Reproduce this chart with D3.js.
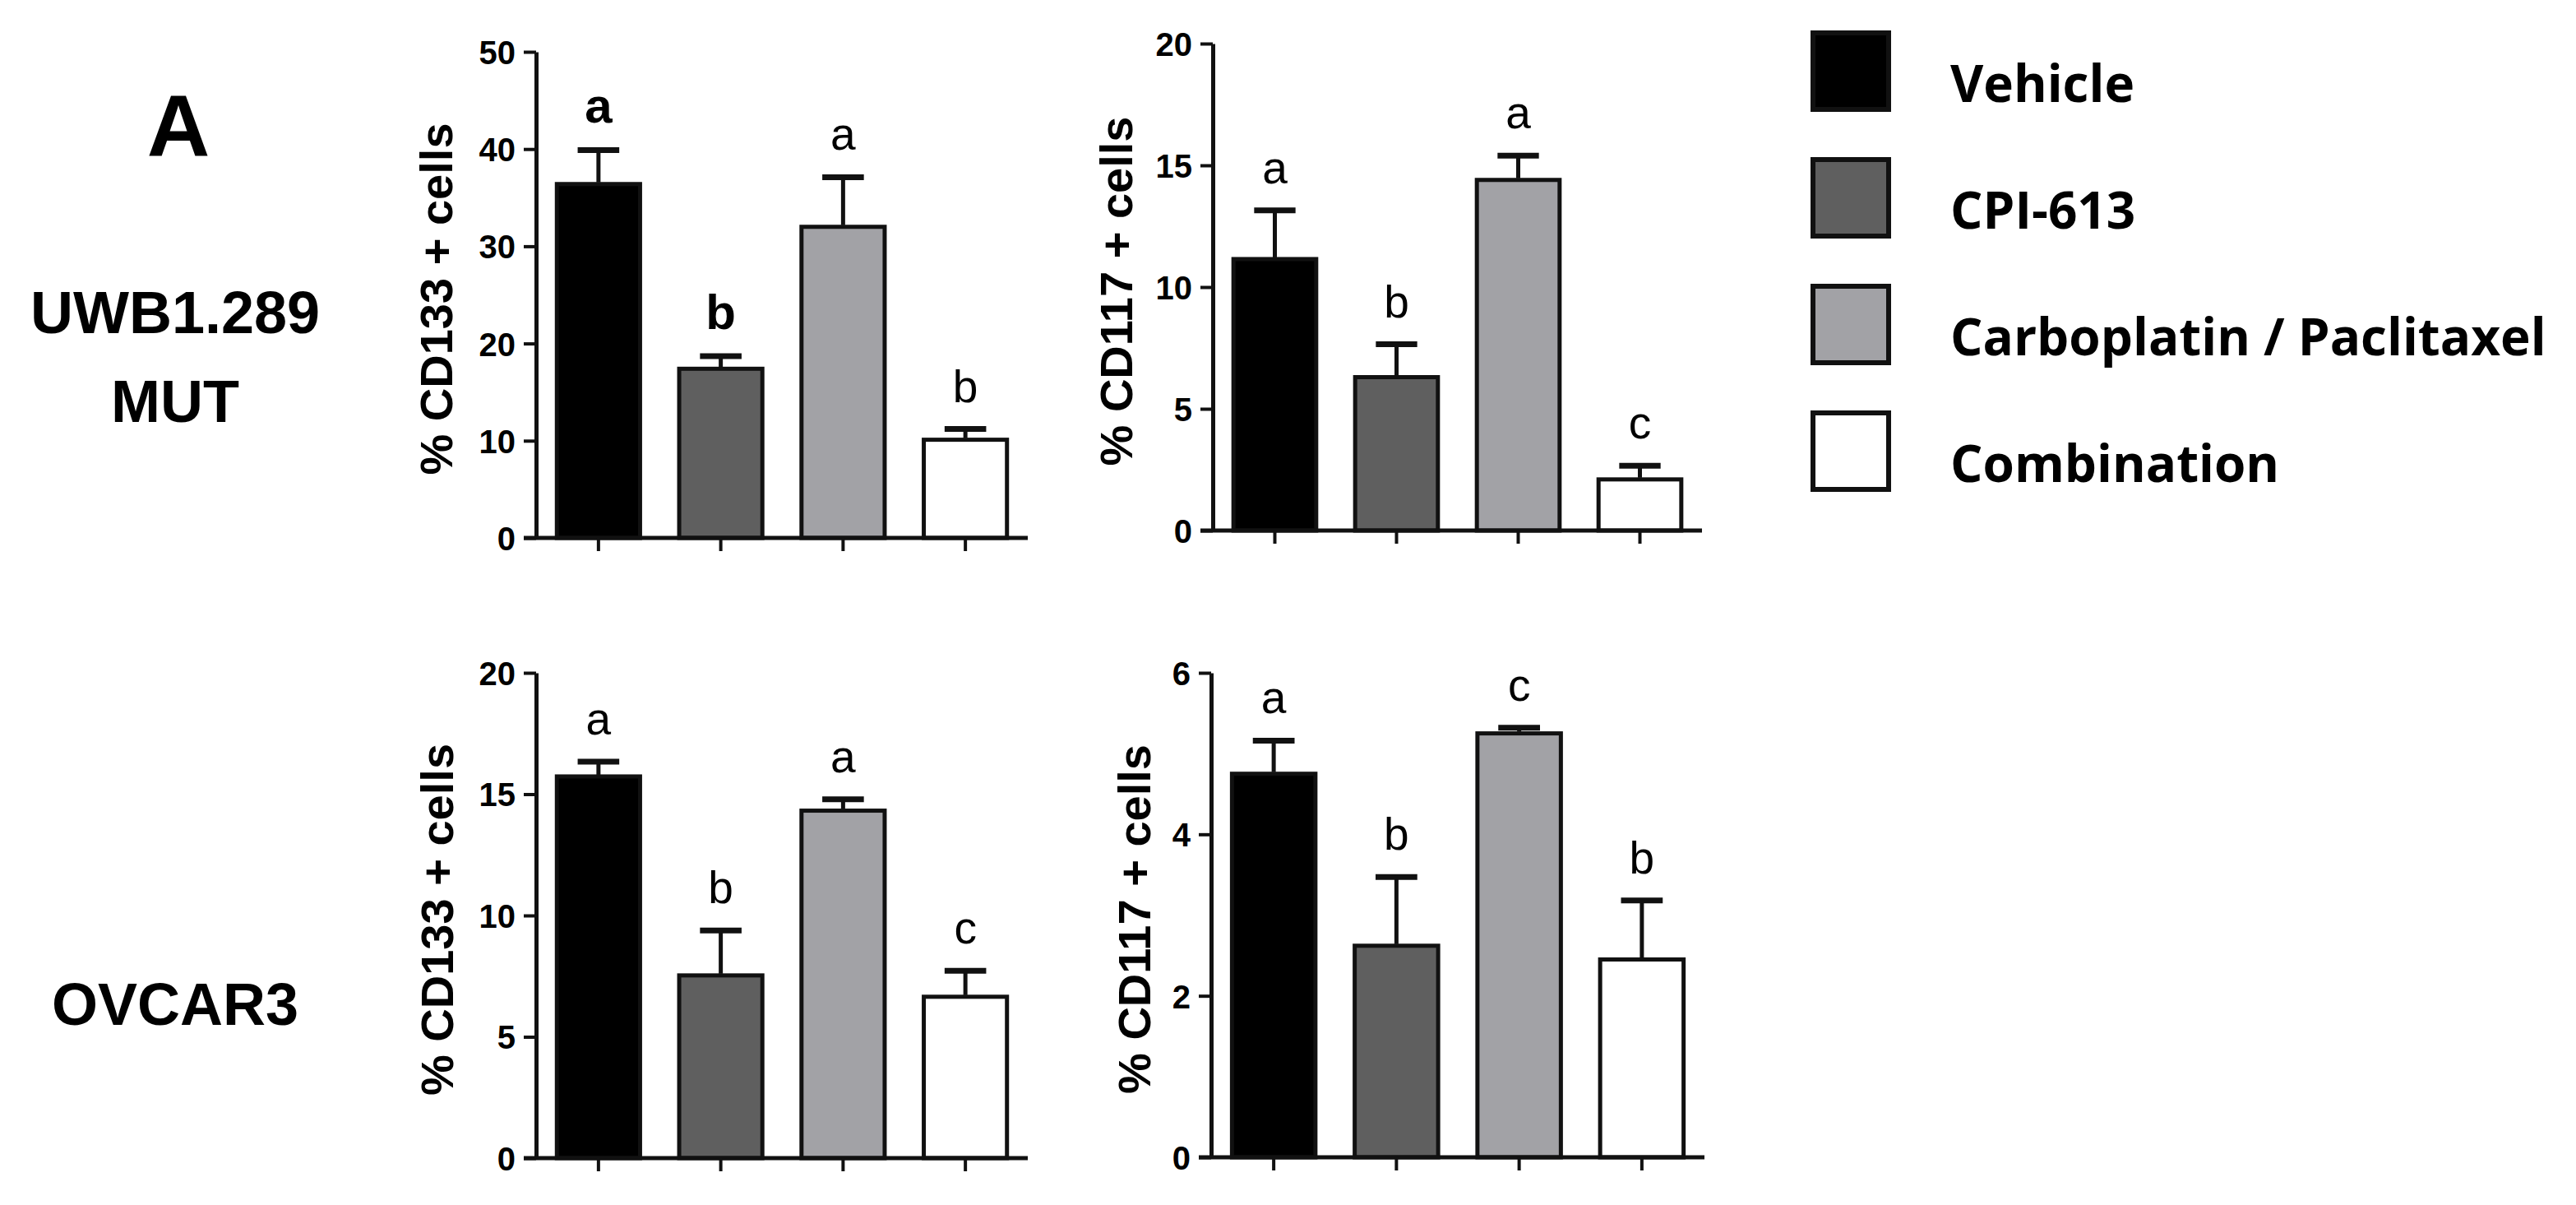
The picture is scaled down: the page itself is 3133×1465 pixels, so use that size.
<!DOCTYPE html>
<html>
<head>
<meta charset="utf-8" />
<title>CD133 / CD117 positive cells</title>
<script src="https://cdn.jsdelivr.net/npm/d3@7"></script>
<style>
	body { margin: 0; background: #fff; }
	svg { display: block; font-family: "Liberation Sans", Arial, sans-serif; }
	.tick text { font-weight: bold; font-size: 40px; fill: #000; }
	.ylab { font-weight: bold; font-size: 56px; }
	.side { font-weight: bold; font-size: 72px; }
	.legend text { font-family: "Open Sans", sans-serif; font-weight: bold; font-size: 62px; }
</style>
</head>
<body>
<script>
// groups (x categories, same in all panels)
var groups = ["Vehicle", "CPI-613", "Carboplatin / Paclitaxel", "Combination"];
var fills = ["#000000", "#5f5f5f", "#a2a2a6", "#ffffff"];

// UWB1.289 MUT
var uwbCD133 = [36.4, 17.4, 32.0, 10.1];
var uwbCD133sem = [3.5, 1.3, 5.1, 1.1];
var uwbCD133let = ["a", "b", "a", "b"];
var uwbCD133ticks = [0, 10, 20, 30, 40, 50];

var uwbCD117 = [11.15, 6.3, 14.4, 2.1];
var uwbCD117sem = [2.0, 1.35, 1.0, 0.56];
var uwbCD117let = ["a", "b", "a", "c"];
var uwbCD117ticks = [0, 5, 10, 15, 20];

// OVCAR3
var ovcCD133 = [15.73, 7.53, 14.32, 6.65];
var ovcCD133sem = [0.61, 1.85, 0.47, 1.07];
var ovcCD133let = ["a", "b", "a", "c"];
var ovcCD133ticks = [0, 5, 10, 15, 20];

var ovcCD117 = [4.75, 2.62, 5.25, 2.45];
var ovcCD117sem = [0.41, 0.85, 0.07, 0.73];
var ovcCD117let = ["a", "b", "c", "b"];
var ovcCD117ticks = [0, 2, 4, 6];

var svg = d3.select("body").append("svg")
	.attr("width", 3133)
	.attr("height", 1465);

// panel letter and cell line names
svg.append("text").attr("x", 217).attr("y", 190).attr("text-anchor", "middle")
	.style("font-weight", "bold").style("font-size", "106px").text("A");
svg.append("text").attr("class", "side").attr("x", 213).attr("y", 405).attr("text-anchor", "middle").text("UWB1.289");
svg.append("text").attr("class", "side").attr("x", 213).attr("y", 513).attr("text-anchor", "middle").text("MUT");
svg.append("text").attr("class", "side").attr("x", 213).attr("y", 1246).attr("text-anchor", "middle").text("OVCAR3");

function panel(p) {
	var g = svg.append("g");

	var y = d3.scaleLinear()
		.domain([0, d3.max(p.ticks)])
		.range([p.y1, p.y0]);

	var x = d3.scaleBand()
		.domain(groups)
		.range([p.x0, p.x1])
		.paddingInner(0.32)
		.paddingOuter(0.17);

	// bars
	g.selectAll(".bar")
		.data(p.values)
		.enter().append("rect")
		.attr("x", function (d, i) { return x(groups[i]); })
		.attr("y", function (d) { return y(d); })
		.attr("width", x.bandwidth())
		.attr("height", function (d) { return y(0) - y(d); })
		.attr("fill", function (d, i) { return fills[i]; })
		.attr("stroke", "#111")
		.attr("stroke-width", 5);

	// error bars (upper only)
	var cx = function (i) { return x(groups[i]) + x.bandwidth() / 2; };
	g.selectAll(".err")
		.data(p.values)
		.enter().append("line")
		.attr("x1", function (d, i) { return cx(i); })
		.attr("x2", function (d, i) { return cx(i); })
		.attr("y1", function (d) { return y(d) - 2; })
		.attr("y2", function (d, i) { return y(d + p.sem[i]); })
		.attr("stroke", "#111")
		.attr("stroke-width", 5);
	g.selectAll(".cap")
		.data(p.values)
		.enter().append("line")
		.attr("x1", function (d, i) { return cx(i) - x.bandwidth() / 4; })
		.attr("x2", function (d, i) { return cx(i) + x.bandwidth() / 4; })
		.attr("y1", function (d, i) { return y(d + p.sem[i]); })
		.attr("y2", function (d, i) { return y(d + p.sem[i]); })
		.attr("stroke", "#111")
		.attr("stroke-width", 7);

	// significance letters
	g.selectAll(".sig")
		.data(p.values)
		.enter().append("text")
		.attr("x", function (d, i) { return cx(i); })
		.attr("y", function (d, i) { return y(d + p.sem[i]) - 33; })
		.attr("text-anchor", "middle")
		.style("font-size", function (d, i) { return p.bold && p.bold[i] ? "60px" : "55px"; })
		.style("font-weight", function (d, i) { return p.bold && p.bold[i] ? "bold" : "normal"; })
		.text(function (d, i) { return p.letters[i]; });

	// y axis
	var yAxis = g.append("g")
		.attr("transform", "translate(" + p.x0 + ",0)")
		.call(d3.axisLeft(y).tickValues(p.ticks).tickFormat(d3.format("d"))
			.tickSize(15).tickPadding(10).tickSizeOuter(0));
	yAxis.select(".domain").attr("stroke", "#111").attr("stroke-width", 5);
	yAxis.selectAll(".tick line").attr("stroke", "#111").attr("stroke-width", 4);
	yAxis.selectAll(".tick text").attr("dy", "0.36em");

	// x axis (no labels, short ticks under bars)
	var xAxis = g.append("g")
		.attr("transform", "translate(0," + y(0) + ")")
		.call(d3.axisBottom(x).tickSize(16).tickSizeOuter(0).tickFormat(""));
	xAxis.select(".domain").attr("stroke", "#111").attr("stroke-width", 5)
		.attr("d", "M" + (p.x0 - 15) + ",0H" + p.x1);
	xAxis.selectAll(".tick line").attr("stroke", "#111").attr("stroke-width", 4);

	// y title
	g.append("text")
		.attr("class", "ylab")
		.attr("transform", "translate(" + p.labX + "," + ((p.y0 + p.y1) / 2 + 5) + ") rotate(-90)")
		.attr("text-anchor", "middle")
		.attr("dy", "0.36em")
		.text(p.title);
}

panel({ values: uwbCD133, sem: uwbCD133sem, letters: uwbCD133let, ticks: uwbCD133ticks,
	bold: [true, true, false, false], title: "% CD133 + cells",
	x0: 652, x1: 1250, y0: 63, y1: 654, labX: 530 });
panel({ values: uwbCD117, sem: uwbCD117sem, letters: uwbCD117let, ticks: uwbCD117ticks,
	title: "% CD117 + cells", x0: 1475, x1: 2070, y0: 53, y1: 645, labX: 1357 });
panel({ values: ovcCD133, sem: ovcCD133sem, letters: ovcCD133let, ticks: ovcCD133ticks,
	title: "% CD133 + cells", x0: 652, x1: 1250, y0: 818, y1: 1408, labX: 531 });
panel({ values: ovcCD117, sem: ovcCD117sem, letters: ovcCD117let, ticks: ovcCD117ticks,
	title: "% CD117 + cells", x0: 1473, x1: 2073, y0: 818, y1: 1407, labX: 1379 });

// legend
var legend = svg.append("g").attr("class", "legend");
var ly = d3.scalePoint().domain(groups).range([40, 502]);
legend.selectAll("rect")
	.data(groups)
	.enter().append("rect")
	.attr("x", 2205)
	.attr("y", function (d) { return ly(d); })
	.attr("width", 92)
	.attr("height", 93)
	.attr("fill", function (d, i) { return fills[i]; })
	.attr("stroke", "#111")
	.attr("stroke-width", 6);
legend.selectAll("text")
	.data(groups)
	.enter().append("text")
	.attr("x", 2372)
	.attr("y", function (d) { return ly(d) + 84; })
	.text(function (d) { return d; });
</script>
</body>
</html>
